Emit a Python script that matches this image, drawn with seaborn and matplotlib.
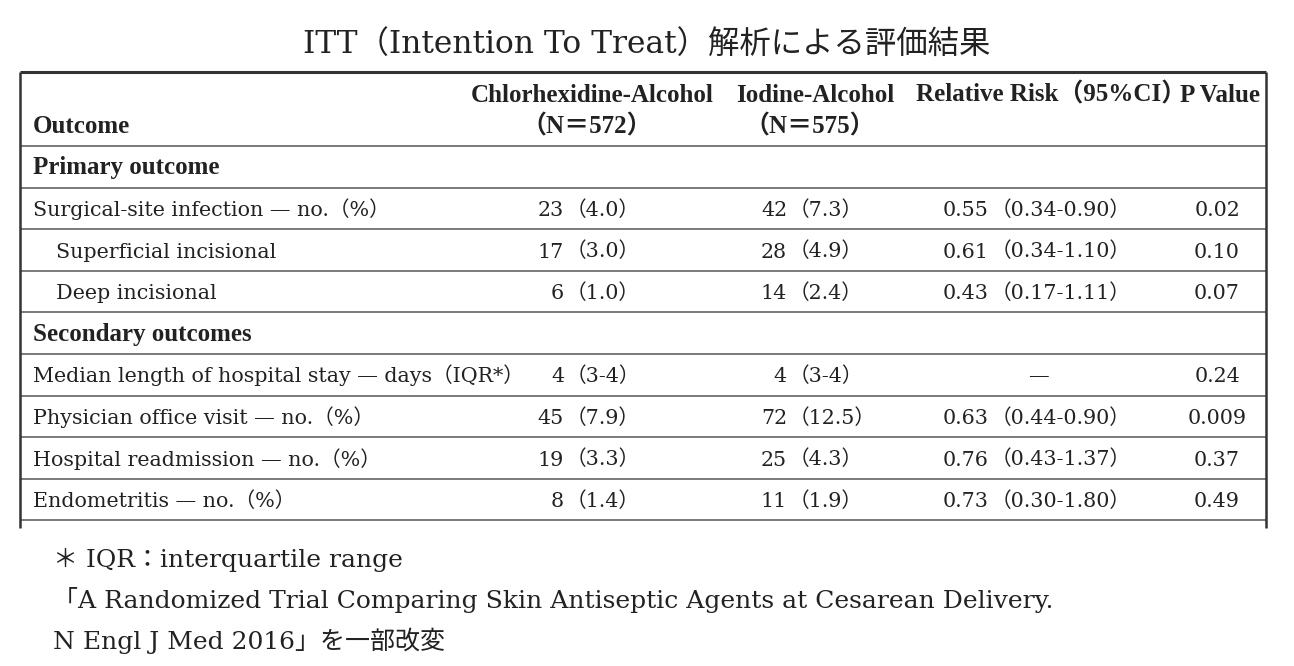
import matplotlib
matplotlib.use("Agg")
import matplotlib.pyplot as plt
import seaborn as sns

# Table content
TITLE = "ITT（Intention To Treat）解析による評価結果"
groups = ["Chlorhexidine-Alcohol", "Iodine-Alcohol"]
group_n = ["572", "575"]
sections = ["Primary outcome", "Secondary outcomes"]
outcomes = [
    "Surgical-site infection — no.（%）",
    "Superficial incisional",
    "Deep incisional",
    "Median length of hospital stay — days（IQR*）",
    "Physician office visit — no.（%）",
    "Hospital readmission — no.（%）",
    "Endometritis — no.（%）",
]
section_of = [0, 0, 0, 1, 1, 1, 1]
indented = [False, True, True, False, False, False, False]
chlor_count = ["23", "17", "6", "4", "45", "19", "8"]
chlor_detail = ["4.0", "3.0", "1.0", "3-4", "7.9", "3.3", "1.4"]
iodine_count = ["42", "28", "14", "4", "72", "25", "11"]
iodine_detail = ["7.3", "4.9", "2.4", "3-4", "12.5", "4.3", "1.9"]
rel_risk = ["0.55", "0.61", "0.43", None, "0.63", "0.76", "0.73"]
rel_ci = ["0.34-0.90", "0.34-1.10", "0.17-1.11", None, "0.44-0.90", "0.43-1.37", "0.30-1.80"]
p_values = ["0.02", "0.10", "0.07", "0.24", "0.009", "0.37", "0.49"]
footnotes = [
    "＊ IQR：interquartile range",
    "「A Randomized Trial Comparing Skin Antiseptic Agents at Cesarean Delivery.",
    "N Engl J Med 2016」を一部改変",
]

sns.set_theme(style="white")
SERIF = ["DejaVu Serif", "Noto Sans CJK JP"]
BOLD = ["Liberation Serif", "Noto Sans CJK JP"]
plt.rcParams["font.family"] = SERIF

W, H = 1294, 666
fig = plt.figure(figsize=(W / 100, H / 100), dpi=100)
ax = fig.add_axes([0, 0, 1, 1])
ax.set_xlim(0, W)
ax.set_ylim(H, 0)
ax.axis("off")
sns.despine(ax=ax, left=True, bottom=True)

TXT = "#222222"
BODY = 14.9
HEAD = 18

# geometry
left, right = 20, 1266
top, head_bottom = 72, 146
row_h = 41.6
table_bottom = 528

ax.text(W / 2, 44, TITLE, ha="center", va="center", fontsize=22.6, color=TXT)


def bold(x, y, s, ha="left"):
    ax.text(x, y, s, ha=ha, va="baseline", fontsize=HEAD, fontweight="bold", family=BOLD, color=TXT)


# header
bold(33, 133, "Outcome")
for cx, name, n in zip([592, 815], groups, group_n):
    bold(cx, 102, name, ha="center")
    bold(cx - 5, 134, f"（N＝{n}）", ha="center")
bold(916, 102, "Relative Risk（95%CI）")
bold(1260, 102, "P Value", ha="right")

# body rows
lines_y = [top, head_bottom]
r = 0
for s, sec in enumerate(sections):
    yc = head_bottom + row_h * (r + 0.5)
    bold(33, yc + 7.5, sec)
    r += 1
    lines_y.append(head_bottom + row_h * r)
    for i in [k for k in range(len(outcomes)) if section_of[k] == s]:
        yc = head_bottom + row_h * (r + 0.5)
        yb = yc + 7.5
        ax.text(56 if indented[i] else 33, yb, outcomes[i], ha="left", va="baseline", fontsize=BODY, color=TXT)
        ax.text(564, yb, chlor_count[i], ha="right", va="baseline", fontsize=BODY, color=TXT)
        ax.text(566, yb, f"（{chlor_detail[i]}）", ha="left", va="baseline", fontsize=BODY, color=TXT)
        ax.text(787, yb, iodine_count[i], ha="right", va="baseline", fontsize=BODY, color=TXT)
        ax.text(789, yb, f"（{iodine_detail[i]}）", ha="left", va="baseline", fontsize=BODY, color=TXT)
        if rel_risk[i] is None:
            ax.text(1038, yb, "—", ha="center", va="baseline", fontsize=BODY, color=TXT)
        else:
            ax.text(989, yb, rel_risk[i], ha="right", va="baseline", fontsize=BODY, color=TXT)
            ax.text(991, yb, f"（{rel_ci[i]}）", ha="left", va="baseline", fontsize=BODY, color=TXT)
        ax.text(1217, yb, p_values[i], ha="center", va="baseline", fontsize=BODY, color=TXT)
        r += 1
        lines_y.append(head_bottom + row_h * r)

# rules
ax.hlines(top, left, right, color="#333333", lw=2.2)
ax.hlines(lines_y[1:], left, right, color="#7a7a7a", lw=1.4)
ax.vlines([left, right], top, table_bottom, color="#333333", lw=1.8)

# footnotes
for k, note in enumerate(footnotes):
    ax.text(53, 567 + 41 * k, note, ha="left", va="baseline", fontsize=18, color=TXT)

fig.savefig("out.png", dpi=100)
